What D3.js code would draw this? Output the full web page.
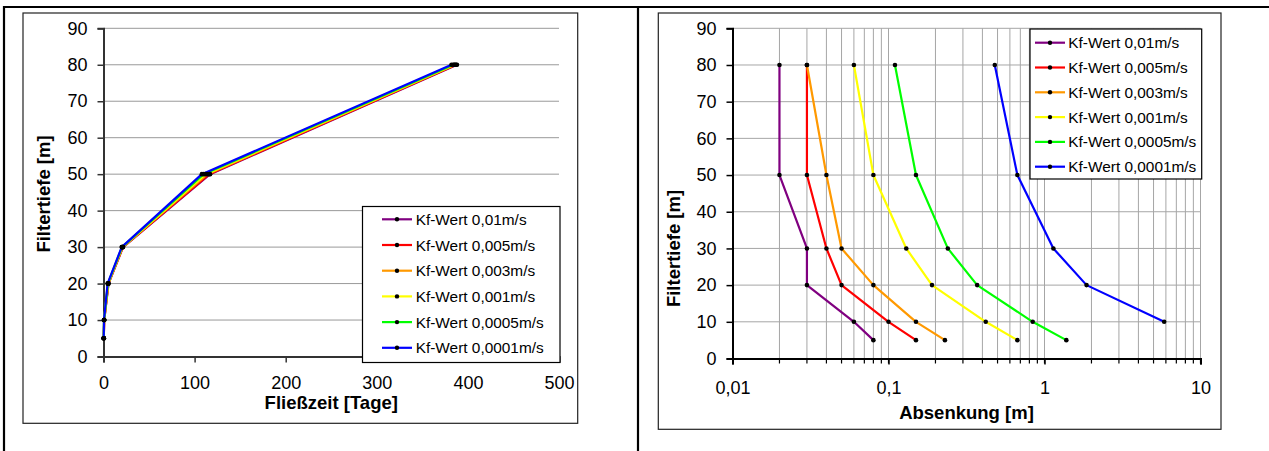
<!DOCTYPE html>
<html>
<head>
<meta charset="utf-8">
<script src="https://cdn.jsdelivr.net/npm/d3@7"></script>
<style>
  html, body { margin: 0; padding: 0; background: #fff; }
  svg { display: block; font-family: "Liberation Sans", Arial, sans-serif; }
</style>
</head>
<body>
<svg id="chart" width="1269" height="451"></svg>
<script>
// ---------- DATA ----------
const seriesNames = ["Kf-Wert 0,01m/s", "Kf-Wert 0,005m/s", "Kf-Wert 0,003m/s",
                     "Kf-Wert 0,001m/s", "Kf-Wert 0,0005m/s", "Kf-Wert 0,0001m/s"];
const seriesColors = ["#800080", "#FF0000", "#FF9900", "#FFFF00", "#00FF00", "#0000FF"];

// Left chart: Filtertiefe [m] vs Fließzeit [Tage]
const depthsLeft = [5, 10, 20, 30, 50, 80];
const flowTime001   = [0.3, 0.8, 5.5, 21.5, 117, 388];
const flowTime0005  = [0.3, 0.8, 5.4, 21.2, 116, 387];
const flowTime0003  = [0.3, 0.7, 5.2, 21.0, 114, 386];
const flowTime0001  = [0.2, 0.6, 5.0, 20.6, 112, 385];
const flowTime00005 = [0.2, 0.6, 4.8, 20.3, 110, 384];
const flowTime00001 = [0.2, 0.5, 4.5, 20.0, 108, 382];
const flowTimes = [flowTime001, flowTime0005, flowTime0003, flowTime0001, flowTime00005, flowTime00001];

// Right chart: Filtertiefe [m] vs Absenkung [m] (log)
const depthsRight = [5, 10, 20, 30, 50, 80];
const drawdown001   = [0.08, 0.06, 0.03, 0.03, 0.02, 0.02];
const drawdown0005  = [0.15, 0.10, 0.05, 0.04, 0.03, 0.03];
const drawdown0003  = [0.23, 0.15, 0.08, 0.05, 0.04, 0.03];
const drawdown0001  = [0.67, 0.42, 0.19, 0.13, 0.08, 0.06];
const drawdown00005 = [1.38, 0.84, 0.37, 0.24, 0.15, 0.11];
const drawdown00001 = [null, 5.85, 1.86, 1.14, 0.67, 0.48];
const drawdowns = [drawdown001, drawdown0005, drawdown0003, drawdown0001, drawdown00005, drawdown00001];

const yTicks = [0, 10, 20, 30, 40, 50, 60, 70, 80, 90];
const xTicksLeft = [0, 100, 200, 300, 400, 500];
const xTicksRight = [0.01, 0.1, 1, 10];
const xTickLabelsRight = ["0,01", "0,1", "1", "10"];

// ---------- DRAWING ----------
const svg = d3.select("#chart");

// table lines
svg.append("line").attr("x1", 3).attr("x2", 1269).attr("y1", 7).attr("y2", 7).attr("stroke", "#000").attr("stroke-width", 2.2);
svg.append("line").attr("x1", 4).attr("x2", 4).attr("y1", 6).attr("y2", 451).attr("stroke", "#000").attr("stroke-width", 2.2);
svg.append("line").attr("x1", 638).attr("x2", 638).attr("y1", 6).attr("y2", 451).attr("stroke", "#000").attr("stroke-width", 2.2);

// chart frames
svg.append("rect").attr("x", 23).attr("y", 13).attr("width", 554.7).attr("height", 410.3)
  .attr("fill", "#fff").attr("stroke", "#222").attr("stroke-width", 1.2);
svg.append("rect").attr("x", 658.3).attr("y", 13).attr("width", 562.7).attr("height", 416.3)
  .attr("fill", "#fff").attr("stroke", "#222").attr("stroke-width", 1.2);

const tickFont = 18;
const titleFont = 18.5;
const legendFont = 15.4;

// ===== LEFT CHART =====
const xL = d3.scaleLinear().domain([0, 500]).range([103.5, 559]);
const yL = d3.scaleLinear().domain([0, 90]).range([356.5, 28.3]);
const gL = svg.append("g");

// gridlines
gL.append("g").selectAll("line").data(yTicks.filter(d => d > 0)).join("line")
  .attr("x1", xL(0)).attr("x2", xL(500))
  .attr("y1", d => yL(d)).attr("y2", d => yL(d))
  .attr("stroke", "#999").attr("stroke-width", 1);

// axes
const axL = gL.append("g").attr("transform", `translate(${xL(0)},0)`)
  .call(d3.axisLeft(yL).tickValues(yTicks).tickSize(6).tickPadding(10).tickFormat(d3.format("d")));
const axB = gL.append("g").attr("transform", `translate(0,${yL(0)})`)
  .call(d3.axisBottom(xL).tickValues(xTicksLeft).tickSize(6).tickPadding(14).tickFormat(d3.format("d")));
[axL, axB].forEach(a => {
  a.select(".domain").attr("stroke", "#333").attr("stroke-width", 2);
  a.selectAll(".tick line").attr("stroke", "#333").attr("stroke-width", 1.5);
  a.selectAll("text").attr("font-size", tickFont).attr("fill", "#000").attr("font-family", "Liberation Sans, Arial, sans-serif");
});

// series
const lineL = d3.line().x(d => xL(d.x)).y(d => yL(d.y));
flowTimes.forEach((vals, i) => {
  const pts = vals.map((v, j) => ({x: v, y: depthsLeft[j]})).filter(p => p.x != null);
  gL.append("path").datum(pts).attr("d", lineL)
    .attr("fill", "none").attr("stroke", seriesColors[i]).attr("stroke-width", 2.2).attr("stroke-linejoin", "round");
});
flowTimes.forEach((vals, i) => {
  const pts = vals.map((v, j) => ({x: v, y: depthsLeft[j]})).filter(p => p.x != null);
  gL.append("g").selectAll("circle").data(pts).join("circle")
    .attr("cx", d => xL(d.x)).attr("cy", d => yL(d.y)).attr("r", 2.3).attr("fill", "#000");
});

// titles
gL.append("text").attr("x", (xL(0) + xL(500)) / 2).attr("y", 409)
  .attr("text-anchor", "middle").attr("font-weight", "bold").attr("font-size", titleFont)
  .text("Fließzeit [Tage]");
gL.append("text").attr("transform", "translate(50,194) rotate(-90)")
  .attr("text-anchor", "middle").attr("font-weight", "bold").attr("font-size", titleFont)
  .text("Filtertiefe [m]");

// legend
function drawLegend(g, x, y, w, h, firstY, step, lineX1, textX) {
  g.append("rect").attr("x", x).attr("y", y).attr("width", w).attr("height", h)
    .attr("fill", "#fff").attr("stroke", "#000").attr("stroke-width", 1.2);
  seriesNames.forEach((name, i) => {
    const cy = firstY + i * step;
    g.append("line").attr("x1", lineX1).attr("x2", lineX1 + 30).attr("y1", cy).attr("y2", cy)
      .attr("stroke", seriesColors[i]).attr("stroke-width", 2.2);
    g.append("circle").attr("cx", lineX1 + 15).attr("cy", cy).attr("r", 2.2).attr("fill", "#000");
    g.append("text").attr("x", textX).attr("y", cy + 5.5).attr("font-size", legendFont).attr("fill", "#000").text(name);
  });
}
drawLegend(gL, 362.5, 206.5, 197.5, 156, 219.3, 25.7, 382, 415.7);

// ===== RIGHT CHART =====
const xR = d3.scaleLog().domain([0.01, 10]).range([732.5, 1200.5]);
const yR = d3.scaleLinear().domain([0, 90]).range([358.5, 28.3]);
const gR = svg.append("g");

const minorVals = [];
[0.01, 0.1, 1].forEach(dec => { for (let k = 2; k <= 10; k++) minorVals.push(+(dec * k).toPrecision(3)); });

// vertical gridlines
gR.append("g").selectAll("line").data(minorVals).join("line")
  .attr("x1", d => xR(d)).attr("x2", d => xR(d))
  .attr("y1", yR(90)).attr("y2", yR(0))
  .attr("stroke", "#a6a6a6").attr("stroke-width", 1);
// horizontal gridlines
gR.append("g").selectAll("line").data(yTicks.filter(d => d > 0)).join("line")
  .attr("x1", xR(0.01)).attr("x2", xR(10))
  .attr("y1", d => yR(d)).attr("y2", d => yR(d))
  .attr("stroke", "#a6a6a6").attr("stroke-width", 1);

// axes
const axR = gR.append("g").attr("transform", `translate(${xR(0.01)},0)`)
  .call(d3.axisLeft(yR).tickValues(yTicks).tickSize(6).tickPadding(10).tickFormat(d3.format("d")));
const axRB = gR.append("g").attr("transform", `translate(0,${yR(0)})`)
  .call(d3.axisBottom(xR).tickValues(xTicksRight).tickSize(6).tickPadding(17)
    .tickFormat((d, i) => xTickLabelsRight[i]));
// minor ticks on x axis
gR.append("g").selectAll("line").data(minorVals).join("line")
  .attr("x1", d => xR(d)).attr("x2", d => xR(d))
  .attr("y1", yR(0)).attr("y2", yR(0) + 5)
  .attr("stroke", "#000").attr("stroke-width", 1.2);
[axR, axRB].forEach(a => {
  a.select(".domain").attr("stroke", "#000").attr("stroke-width", 2);
  a.selectAll(".tick line").attr("stroke", "#000").attr("stroke-width", 1.5);
  a.selectAll("text").attr("font-size", tickFont).attr("fill", "#000").attr("font-family", "Liberation Sans, Arial, sans-serif");
});

// series
const lineR = d3.line().x(d => xR(d.x)).y(d => yR(d.y));
drawdowns.forEach((vals, i) => {
  const pts = vals.map((v, j) => ({x: v, y: depthsRight[j]})).filter(p => p.x != null);
  gR.append("path").datum(pts).attr("d", lineR)
    .attr("fill", "none").attr("stroke", seriesColors[i]).attr("stroke-width", 2.2).attr("stroke-linejoin", "round");
});
drawdowns.forEach((vals, i) => {
  const pts = vals.map((v, j) => ({x: v, y: depthsRight[j]})).filter(p => p.x != null);
  gR.append("g").selectAll("circle").data(pts).join("circle")
    .attr("cx", d => xR(d.x)).attr("cy", d => yR(d.y)).attr("r", 2.3).attr("fill", "#000");
});

// titles
gR.append("text").attr("x", (xR(0.01) + xR(10)) / 2).attr("y", 419)
  .attr("text-anchor", "middle").attr("font-weight", "bold").attr("font-size", titleFont)
  .text("Absenkung [m]");
gR.append("text").attr("transform", "translate(680,248.5) rotate(-90)")
  .attr("text-anchor", "middle").attr("font-weight", "bold").attr("font-size", titleFont)
  .text("Filtertiefe [m]");

drawLegend(gR, 1030, 29, 171.7, 150, 42.7, 24.8, 1035, 1068.3);
</script>
</body>
</html>
